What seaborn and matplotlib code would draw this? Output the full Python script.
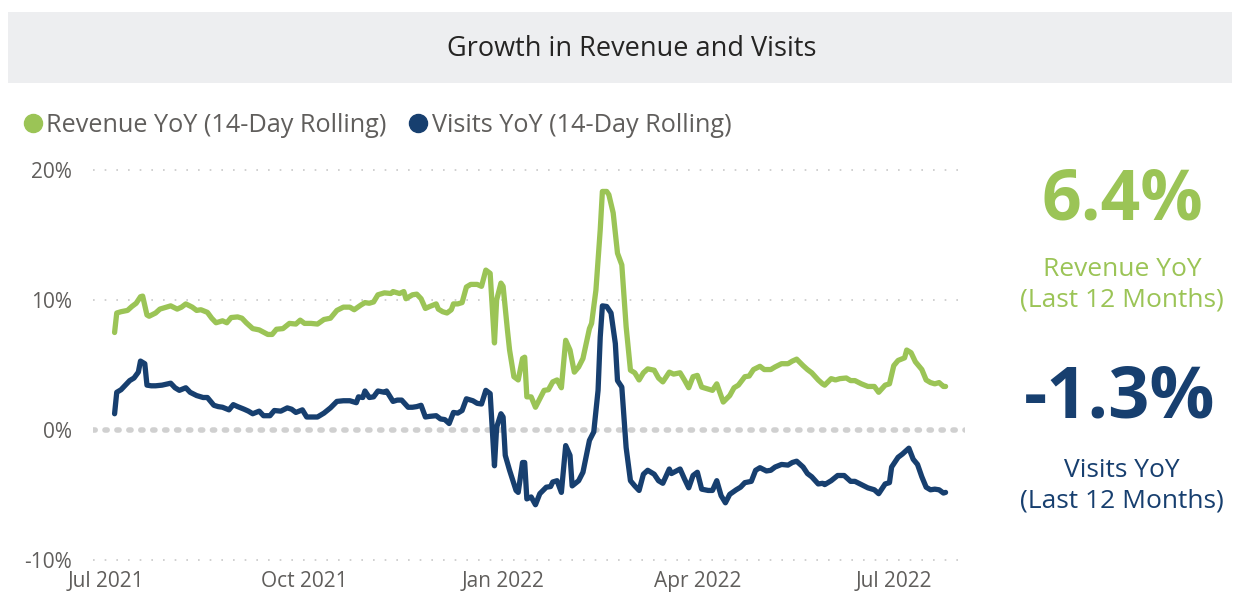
import pandas as pd
import matplotlib
matplotlib.use("Agg")
import matplotlib.pyplot as plt
import matplotlib.dates as mdates
from matplotlib.lines import Line2D
from matplotlib.patches import Rectangle
from matplotlib.ticker import FuncFormatter, FixedLocator
import seaborn as sns

# ---------------- data ----------------
START = "2021-07-01"
title = "Growth in Revenue and Visits"
series_names = ["Revenue YoY (14-Day Rolling)", "Visits YoY (14-Day Rolling)"]
series_colors = ["#9BC456", "#173F6F"]

# days since START, and YoY growth in %
rev_day = [4, 5, 7, 10, 12, 14, 16, 17, 19, 20, 23, 25, 28, 30, 33, 35, 37, 40, 42, 44, 47, 49, 51, 54, 56,
           58, 61, 63, 65, 68, 71, 75, 77, 79, 82, 85, 88, 90, 92, 95, 98, 101, 104, 107, 110, 113, 115, 118,
           120, 122, 124, 126, 129, 132, 133, 136, 138, 139, 142, 144, 146, 148, 150, 153, 154, 156, 158, 160,
           161, 163, 165, 167, 169, 172, 174, 176, 178, 180, 181, 183, 184, 186, 187, 189, 191, 193, 194, 195,
           197, 199, 201, 203, 205, 207, 209, 211, 213, 215, 217, 219, 221, 224, 225, 227, 229, 230, 232, 233,
           235, 237, 239, 241, 243, 245, 247, 249, 251, 254, 256, 258, 261, 263, 266, 268, 270, 272, 274, 276,
           279, 281, 283, 286, 289, 291, 293, 296, 298, 300, 303, 305, 308, 310, 313, 316, 318, 320, 323, 325,
           327, 330, 332, 333, 336, 338, 340, 343, 345, 347, 350, 353, 356, 358, 361, 363, 365, 367, 370, 371,
           373, 375, 378, 380, 382, 384, 386, 388, 389]
rev_yoy = [7.5, 9.0, 9.1, 9.2, 9.5, 9.75, 10.25, 10.3, 8.85, 8.75, 9.0, 9.3, 9.45, 9.55, 9.3, 9.45, 9.7, 9.45,
           9.2, 9.25, 9.05, 8.6, 8.25, 8.4, 8.25, 8.65, 8.7, 8.6, 8.25, 7.8, 7.7, 7.35, 7.35, 7.75, 7.8, 8.2,
           8.15, 8.45, 8.2, 8.2, 8.15, 8.5, 8.6, 9.2, 9.45, 9.45, 9.25, 9.6, 9.8, 9.75, 9.85, 10.4, 10.55, 10.5,
           10.65, 10.5, 10.65, 10.1, 10.4, 10.45, 10.1, 9.35, 9.5, 9.7, 9.3, 9.1, 9.0, 9.25, 9.7, 9.7, 9.8, 11.0,
           11.2, 11.2, 11.05, 12.3, 12.05, 6.7, 10.0, 11.3, 11.05, 7.7, 6.15, 4.1, 3.85, 5.5, 5.6, 2.55, 2.55,
           1.75, 2.4, 3.05, 3.1, 3.7, 3.85, 3.25, 6.9, 6.15, 4.45, 4.85, 5.5, 7.8, 8.2, 10.75, 15.4, 18.35,
           18.35, 18.1, 16.7, 13.6, 12.7, 7.95, 4.6, 4.4, 3.85, 4.4, 4.7, 4.6, 4.0, 3.7, 4.45, 4.3, 4.4, 3.85,
           3.25, 4.1, 4.2, 3.3, 3.15, 3.05, 3.55, 2.15, 2.65, 3.25, 3.45, 4.1, 4.15, 4.65, 4.9, 4.65, 4.65, 4.85,
           5.1, 5.1, 5.3, 5.45, 4.95, 4.65, 4.4, 3.85, 3.55, 3.45, 3.95, 3.85, 3.95, 4.0, 3.8, 3.8, 3.55, 3.35,
           3.35, 2.9, 3.45, 3.55, 4.95, 5.35, 5.55, 6.15, 5.95, 5.25, 4.65, 3.85, 3.65, 3.55, 3.65, 3.35, 3.35]

vis_day = [4, 5, 7, 9, 11, 13, 15, 16, 18, 19, 21, 23, 26, 30, 32, 34, 37, 39, 42, 45, 47, 50, 52, 54, 57, 59,
           61, 64, 66, 68, 71, 73, 76, 78, 81, 84, 86, 88, 91, 93, 95, 98, 101, 104, 107, 110, 113, 116, 117,
           119, 120, 122, 124, 126, 129, 130, 133, 135, 137, 140, 142, 144, 146, 148, 150, 153, 155, 157, 159,
           161, 163, 165, 167, 170, 172, 174, 176, 178, 180, 181, 183, 184, 185, 187, 190, 191, 193, 194, 195,
           197, 199, 201, 204, 206, 207, 209, 211, 213, 215, 216, 219, 221, 224, 226, 228, 229, 230, 232, 234,
           236, 237, 239, 241, 243, 245, 247, 249, 251, 254, 256, 258, 261, 262, 266, 268, 270, 272, 274, 276,
           279, 281, 283, 285, 287, 289, 292, 294, 296, 299, 301, 303, 306, 308, 310, 313, 316, 318, 320, 323,
           325, 327, 330, 332, 333, 336, 339, 342, 345, 347, 350, 353, 356, 358, 361, 363, 364, 367, 369, 372,
           374, 376, 378, 380, 382, 384, 386, 388, 389]
vis_yoy = [1.25, 2.9, 3.1, 3.45, 3.8, 4.0, 4.45, 5.3, 5.1, 3.45, 3.4, 3.4, 3.45, 3.6, 3.25, 3.05, 3.25, 2.9,
           2.65, 2.5, 2.5, 1.9, 1.8, 1.75, 1.55, 1.95, 1.8, 1.6, 1.45, 1.25, 1.45, 1.1, 1.1, 1.5, 1.45, 1.7, 1.6,
           1.35, 1.55, 1.0, 1.0, 1.0, 1.3, 1.7, 2.2, 2.25, 2.25, 2.1, 2.55, 2.5, 3.0, 2.5, 2.55, 3.0, 2.9, 3.0,
           2.2, 2.3, 2.3, 1.75, 1.75, 1.8, 1.9, 1.0, 1.05, 1.1, 0.85, 0.8, 0.5, 1.35, 1.3, 1.5, 2.4, 2.25, 2.05,
           2.0, 3.05, 2.8, -2.75, 0.2, 1.25, 1.0, -1.95, -3.1, -4.65, -4.8, -2.5, -2.5, -5.3, -5.15, -5.75, -4.9,
           -4.4, -4.35, -4.0, -3.9, -4.8, -1.2, -1.95, -4.3, -3.9, -3.25, -0.8, -0.15, 3.05, 7.15, 9.55, 9.5,
           9.0, 6.65, 3.8, 3.3, -1.35, -3.9, -4.3, -4.65, -3.4, -3.1, -3.4, -3.9, -4.1, -3.0, -3.35, -3.0, -3.75,
           -4.45, -3.5, -3.25, -4.55, -4.65, -4.65, -3.9, -5.05, -5.6, -4.95, -4.6, -4.4, -4.05, -3.95, -3.1,
           -2.9, -3.15, -3.1, -2.85, -2.65, -2.7, -2.5, -2.4, -2.85, -3.35, -3.6, -4.15, -4.1, -4.2, -3.9, -3.5,
           -3.5, -3.95, -3.95, -4.2, -4.45, -4.6, -4.9, -4.15, -4.05, -2.85, -2.1, -1.85, -1.4, -2.25, -2.65,
           -3.6, -4.4, -4.6, -4.55, -4.6, -4.85, -4.8]

kpi_values = ["6.4%", "-1.3%"]
kpi_labels = ["Revenue YoY\n(Last 12 Months)", "Visits YoY\n(Last 12 Months)"]
y_ticks = [-10, 0, 10, 20]
x_ticks = ["2021-07-01", "2021-10-01", "2022-01-01", "2022-04-01", "2022-07-01"]
x_limits = ["2021-06-25", "2022-08-03"]
y_limits = [-10, 20]

# ---------------- build table ----------------
start = pd.Timestamp(START)
df = pd.concat([
    pd.DataFrame({"date": start + pd.to_timedelta(rev_day, unit="D"), "value": rev_yoy,
                  "series": series_names[0]}),
    pd.DataFrame({"date": start + pd.to_timedelta(vis_day, unit="D"), "value": vis_yoy,
                  "series": series_names[1]}),
], ignore_index=True)

# ---------------- style ----------------
sns.set_theme(style="white")
plt.rcParams["font.family"] = ["Open Sans", "DejaVu Sans"]

TXT = "#605E5C"
fig = plt.figure(figsize=(12.42, 6.10), dpi=100)
fig.patch.set_facecolor("white")

# title bar
fig.patches.append(Rectangle((8 / 1242, 1 - 83 / 610), 1224 / 1242, 71 / 610,
                             transform=fig.transFigure, facecolor="#EDEEF0", edgecolor="none", zorder=0))
fig.text(632 / 1242, 1 - 49 / 610, title, ha="center", va="center", fontsize=19.5, color="#252423")

ax = fig.add_axes([93 / 1242, 1 - 560 / 610, (965 - 93) / 1242, (560 - 170) / 610])

sns.lineplot(data=df, x="date", y="value", hue="series", hue_order=series_names,
             palette=series_colors, linewidth=3.8, estimator=None, legend=False, ax=ax, zorder=3)
for ln in ax.lines:
    ln.set_solid_joinstyle("round")
    ln.set_solid_capstyle("round")

ax.set_xlim(pd.Timestamp(x_limits[0]), pd.Timestamp(x_limits[1]))
ax.set_ylim(*y_limits)
ax.set_xlabel("")
ax.set_ylabel("")

ax.yaxis.set_major_locator(FixedLocator(y_ticks))
ax.yaxis.set_major_formatter(FuncFormatter(lambda v, p: f"{v:.0f}%"))
ax.xaxis.set_major_locator(FixedLocator(mdates.date2num(pd.to_datetime(x_ticks))))
ax.xaxis.set_major_formatter(mdates.DateFormatter("%b %Y"))

for s in ax.spines.values():
    s.set_visible(False)
ax.tick_params(axis="both", length=0, labelsize=15, labelcolor=TXT)
ax.tick_params(axis="y", pad=15)
ax.tick_params(axis="x", pad=8)

ax.grid(False)
for yv in y_ticks:
    if yv == 0:
        ax.axhline(yv, color="#D0D0D0", lw=4.0, linestyle=(0, (0.4, 1.75)),
                   dash_capstyle="round", zorder=1)
    else:
        ax.axhline(yv, color="#C8C8C8", lw=1.2, linestyle=(0, (1, 6)), zorder=1, clip_on=False)

# legend
handles = [Line2D([0], [0], marker="o", linestyle="", markersize=13, markerfacecolor=c,
                  markeredgecolor=c) for c in series_colors]
fig.legend(handles, series_names, loc="center left", bbox_to_anchor=(6 / 1242, 1 - 125 / 610),
           ncol=2, frameon=False, fontsize=18.2, labelcolor=TXT, handletextpad=-0.1,
           columnspacing=0.6, handlelength=1.3, borderaxespad=0)

# KPI panel
kx = 1122 / 1242
fig.text(kx, 1 - 201 / 610, kpi_values[0], ha="center", va="center", fontsize=50,
         fontweight="bold", color=series_colors[0])
fig.text(kx, 1 - 285 / 610, kpi_labels[0], ha="center", va="center", fontsize=19,
         color=series_colors[0], linespacing=1.3)
fig.text(1120 / 1242, 1 - 399 / 610, kpi_values[1], ha="center", va="center", fontsize=52,
         fontweight="bold", color=series_colors[1])
fig.text(kx, 1 - 486 / 610, kpi_labels[1], ha="center", va="center", fontsize=19,
         color=series_colors[1], linespacing=1.3)

fig.savefig("out.png", dpi=100)
